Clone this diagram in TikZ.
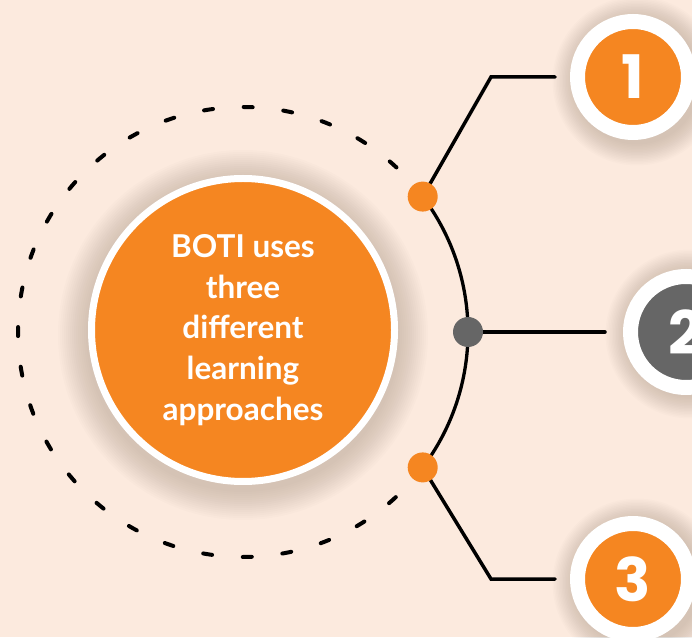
\documentclass[tikz,border=0pt]{standalone}
\usepackage{fontspec}
\setmainfont{Lato}
\newfontfamily\numfont{Poppins}
\usetikzlibrary{positioning, calc}
\definecolor{bgpeach}{RGB}{252,234,222}
\definecolor{botiorange}{RGB}{245,134,33}
\definecolor{botigray}{RGB}{102,102,102}
\tikzset{
x=1pt, y=1pt, % one unit is one point
core/.style={circle, fill=botiorange, draw=white, line width=7pt, minimum size=303pt, text=white, align=center, font=\fontsize{31.5}{40.7}\selectfont\bfseries}, % the big middle circle
numcircle/.style={circle, fill=#1, draw=white, line width=15pt, minimum size=111pt, text=white, font=\numfont\fontsize{60}{60}\selectfont\bfseries}, % the numbered circles
dot/.style={circle, fill=#1, inner sep=0pt, minimum size=30pt}, % the dots on the arc
link/.style={line width=3.5pt, line cap=round, line join=miter, shorten >=15pt}, % the connectors
}

\begin{document}
\begin{tikzpicture}
      \useasboundingbox (0,0) rectangle (692,637);
      \clip (0,0) rectangle (692,637);
      \fill[bgpeach] (0,0) rectangle (692,637);
      \coordinate (c) at (243,305);
      % soft shadows
      \foreach \i in {1,...,15} {
        \fill[black!70!brown, opacity=0.011] ($(c)+(0,-3)$) circle (155+2*\i);
        \foreach \p in {(637,556), (690,303), (637,54)}
          \fill[black!70!brown, opacity=0.011] \p circle (62+1.5*\i);
      }
      \node[core] (boti) at ($(c)+(0,2)$) {BOTI uses\\three\\different\\learning\\approaches};
      \node[numcircle=botiorange] (n1) at (633,560) {1};
      \node[numcircle=botigray] (n2) at (686,305) {2};
      \node[numcircle=botiorange] (n3) at (633,58) {3};
      % the arc, dashed and solid
      \draw[line width=4pt, line cap=round, dash pattern=on 9pt off 30.8pt] ($(c)+(47:225)$) arc[start angle=47, end angle=313, radius=225];
      \draw[line width=3.3pt] ($(c)+(-37:225)$) arc[start angle=-37, end angle=37, radius=225];
      \coordinate (p1) at ($(c)+(37:225)$);
      \coordinate (p2) at ($(c)+(0:225)$);
      \coordinate (p3) at ($(c)+(-37:225)$);
      \coordinate (k1) at (491,560);
      \coordinate (k3) at (491,58);
      \draw[link] (p1) -- (k1) -- (n1);
      \draw[link, shorten >=18pt] (p2) -- (n2);
      \draw[link] (p3) -- (k3) -- (n3);
      \node[dot=botiorange] (d1) at (p1) {};
      \node[dot=botigray] (d2) at (p2) {};
      \node[dot=botiorange] (d3) at (p3) {};
    \end{tikzpicture}
\end{document}
